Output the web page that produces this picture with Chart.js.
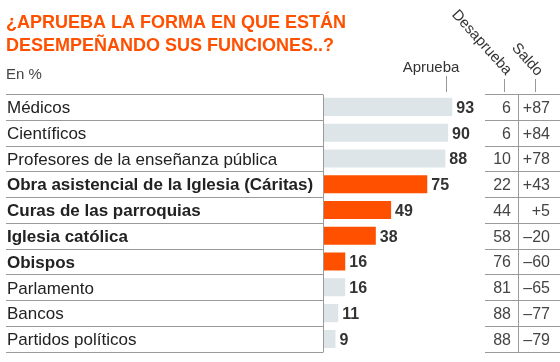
<!DOCTYPE html>
<html>
<head>
<meta charset="utf-8">
<script src="https://cdn.jsdelivr.net/npm/chart.js@4/dist/chart.umd.min.js"></script>
<style>
html,body{margin:0;padding:0;background:#fff;}
canvas{display:block;}
</style>
</head>
<body>
<canvas id="c" width="560" height="362"></canvas>
<script>
const titleLines = ["¿APRUEBA LA FORMA EN QUE ESTÁN", "DESEMPEÑANDO SUS FUNCIONES..?"];
const unitLabel = "En %";
const headers = ["Aprueba", "Desaprueba", "Saldo"];
const categories = ["Médicos", "Científicos", "Profesores de la enseñanza pública", "Obra asistencial de la Iglesia (Cáritas)", "Curas de las parroquias", "Iglesia católica", "Obispos", "Parlamento", "Bancos", "Partidos políticos"];
const aprueba = [93, 90, 88, 75, 49, 38, 16, 16, 11, 9];
const desaprueba = [6, 6, 10, 22, 44, 58, 76, 81, 88, 88];
const saldo = ["+87", "+84", "+78", "+43", "+5", "–20", "–60", "–65", "–77", "–79"];
const highlighted = [false, false, false, true, true, true, true, false, false, false];

const ORANGE = "#ff5000";
const LIGHT = "#dde5e9";
const FONT = "'Liberation Sans', Arial, sans-serif";

const tablePlugin = {
  id: "tablePlugin",
  beforeDraw(chart) {
    const ctx = chart.ctx;
    ctx.save();
    ctx.fillStyle = ORANGE;
    ctx.font = "bold 18px " + FONT;
    ctx.textBaseline = "alphabetic";
    ctx.textAlign = "left";
    ctx.fillText(titleLines[0], 6, 28);
    ctx.fillText(titleLines[1], 6, 51);
    ctx.fillStyle = "#444";
    ctx.font = "15px " + FONT;
    ctx.fillText(unitLabel, 6, 79);
    // header
    ctx.fillStyle = "#333";
    ctx.font = "15px " + FONT;
    ctx.textAlign = "center";
    ctx.fillText(headers[0], 431, 72);
    ctx.textAlign = "right";
    ctx.textBaseline = "middle";
    ctx.save();
    ctx.translate(509, 73);
    ctx.rotate(48 * Math.PI / 180);
    ctx.fillText(headers[1], 0, 0);
    ctx.restore();
    ctx.save();
    ctx.translate(540, 74);
    ctx.rotate(48 * Math.PI / 180);
    ctx.fillText(headers[2], 0, 0);
    ctx.restore();
    // header ticks
    ctx.strokeStyle = "#999";
    ctx.lineWidth = 1;
    ctx.beginPath();
    ctx.moveTo(446.5, 76); ctx.lineTo(446.5, 92);
    ctx.moveTo(504.5, 79); ctx.lineTo(504.5, 92);
    ctx.moveTo(535.5, 79); ctx.lineTo(535.5, 92);
    ctx.stroke();
    ctx.restore();
  },
  afterDatasetsDraw(chart) {
    const ctx = chart.ctx;
    const y = chart.scales.y;
    const area = chart.chartArea;
    const meta = chart.getDatasetMeta(0);
    const n = categories.length;
    const pitch = (area.bottom - area.top) / n;
    ctx.save();
    // row lines
    ctx.strokeStyle = "#9a9a9a";
    ctx.lineWidth = 1;
    ctx.beginPath();
    for (let i = 0; i <= n; i++) {
      const yy = Math.round(area.top + i * pitch) + 0.5;
      ctx.moveTo(6, yy); ctx.lineTo(area.left, yy);
      ctx.moveTo(485, yy); ctx.lineTo(560, yy);
    }
    ctx.moveTo(area.left + 0.5, Math.round(area.top) + 0.5);
    ctx.lineTo(area.left + 0.5, Math.round(area.bottom) + 0.5);
    ctx.moveTo(518.5, Math.round(area.top) + 0.5);
    ctx.lineTo(518.5, Math.round(area.bottom) + 0.5);
    ctx.stroke();
    // values
    ctx.textBaseline = "middle";
    for (let i = 0; i < n; i++) {
      const bar = meta.data[i];
      const cy = y.getPixelForValue(i) + 1.5;
      ctx.font = "bold 16px " + FONT;
      ctx.fillStyle = "#333";
      ctx.textAlign = "left";
      ctx.fillText(String(aprueba[i]), bar.x + 4, cy);
      ctx.font = "16px " + FONT;
      ctx.fillStyle = "#444";
      ctx.textAlign = "right";
      ctx.fillText(String(desaprueba[i]), 511, cy);
      ctx.fillText(saldo[i], 550, cy);
    }
    ctx.restore();
  }
};

new Chart(document.getElementById("c"), {
  type: "bar",
  data: {
    labels: categories,
    datasets: [{
      data: aprueba,
      backgroundColor: highlighted.map(h => h ? ORANGE : LIGHT),
      borderWidth: 0,
      barPercentage: 0.7,
      categoryPercentage: 1.0
    }]
  },
  options: {
    indexAxis: "y",
    responsive: false,
    animation: false,
    events: [],
    layout: { padding: { left: 7, top: 94, right: 98, bottom: 10 } },
    plugins: { legend: { display: false }, tooltip: { enabled: false }, title: { display: false } },
    scales: {
      x: { display: false, min: 0, max: 100 },
      y: {
        grid: { display: false },
        border: { display: false },
        afterFit(scale) { scale.width = 316; },
        ticks: {
          crossAlign: "far",
          padding: 0,
          labelOffset: 1.5,
          color: "#222",
          font: (c) => ({ family: FONT, size: 17, weight: highlighted[c.index] ? "bold" : "normal" })
        }
      }
    }
  },
  plugins: [tablePlugin]
});
</script>
</body>
</html>
